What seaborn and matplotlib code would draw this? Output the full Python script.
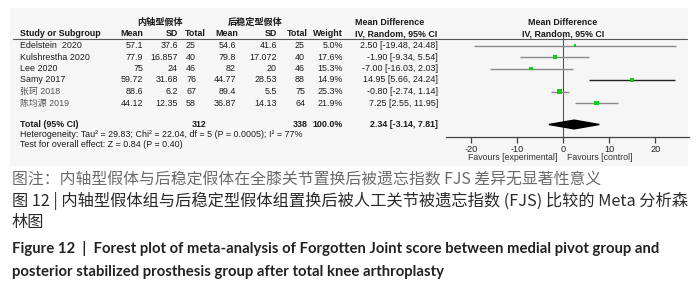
import numpy as np
import pandas as pd
import matplotlib
matplotlib.use("Agg")
import matplotlib.pyplot as plt
import matplotlib.transforms as mtransforms
from matplotlib.lines import Line2D
from matplotlib.patches import Rectangle
import seaborn as sns

# data
studies = ["Edelstein  2020", "Kulshrestha 2020", "Lee 2020", "Samy 2017", "张珂 2018", "陈均源 2019"]
mp_mean = [57.1, 77.9, 75, 59.72, 88.6, 44.12]
mp_sd = [37.6, 16.857, 24, 31.68, 6.2, 12.35]
mp_n = [25, 40, 46, 76, 67, 58]
ps_mean = [54.6, 79.8, 82, 44.77, 89.4, 36.87]
ps_sd = [41.6, 17.072, 20, 28.53, 5.5, 14.13]
ps_n = [25, 40, 46, 88, 75, 64]
weights = [5.0, 17.6, 15.3, 14.9, 25.3, 21.9]
md = [2.50, -1.90, -7.00, 14.95, -0.80, 7.25]
ci_lo = [-19.48, -9.34, -16.03, 5.66, -2.74, 2.55]
ci_hi = [24.48, 5.54, 2.03, 24.24, 1.14, 11.95]
total_n = [312, 338]
total_md, total_lo, total_hi = 2.34, -3.14, 7.81
x_ticks = [-20, -10, 0, 10, 20]
heterogeneity = "Heterogeneity: Tau² = 29.83; Chi² = 22.04, df = 5 (P = 0.0005); I² = 77%"
overall = "Test for overall effect: Z = 0.84 (P = 0.40)"

sns.set_theme(style="white")
plt.rcParams["font.family"] = ["Liberation Sans", "Noto Sans CJK SC", "DejaVu Sans"]
plt.rcParams["axes.unicode_minus"] = False

W, H = 700, 295
fig = plt.figure(figsize=(W / 100, H / 100), dpi=100)


def fx(x):
    return x / W


def fy(y):
    return 1 - y / H


# light grey panel behind the forest plot
fig.add_artist(Rectangle((fx(10), fy(166)), fx(678), 158 / H, transform=fig.transFigure,
                         facecolor="#f6f6f6", edgecolor="none", zorder=-5))

# forest plot axes, rows are indexed 0..n, pixel pitch 11.5
pitch, row0 = 11.5, 45.5
ax = fig.add_axes([fx(446), fy(137), fx(689) - fx(446), 100 / H])
ax.set_facecolor("none")
ax.set_xlim(-25.5, 27.3)
ax.set_ylim((137 - row0) / pitch, (37 - row0) / pitch)
rows = np.arange(len(studies))
total_row = (124.5 - row0) / pitch

df = pd.DataFrame({"study": studies, "md": md, "lo": ci_lo, "hi": ci_hi,
                   "w": weights, "row": rows})
line_cols = ["#222222" if s.startswith("Samy") else "#8a8a8a" for s in studies]
ax.hlines(df["row"], df["lo"], df["hi"], colors=line_cols, lw=1.0, zorder=2)
sns.scatterplot(data=df, x="md", y="row", size="w", sizes=(2.6, 13.2), marker="s",
                color="#11cc11", edgecolor="none", legend=False, ax=ax, zorder=3)
ax.axvline(0, color="#555555", lw=0.8, zorder=1)
h = 0.38
ax.fill([total_lo, total_md, total_hi, total_md],
        [total_row, total_row - h, total_row, total_row + h], color="black", zorder=3)

for s in ["top", "left", "right"]:
    ax.spines[s].set_visible(False)
ax.spines["bottom"].set_color("#444444")
ax.spines["bottom"].set_linewidth(0.9)
ax.set_xticks(x_ticks)
ax.set_yticks([])
ax.tick_params(axis="x", direction="out", length=4, width=0.9, color="#444444",
               labelsize=6.6, pad=1.5, labelcolor="#222222", bottom=True)
ax.set_xlabel("")
ax.set_ylabel("")

# table text: x in figure fraction, y in row units
trans = mtransforms.blended_transform_factory(fig.transFigure, ax.transData)
fs = 6.4
tc = "#1a1a1a"


def cell(x, y, s, ha="right", bold=False, color=tc, size=fs):
    ax.text(fx(x), y, s, transform=trans, ha=ha, va="center", fontsize=size,
            fontweight="bold" if bold else "normal", color=color, clip_on=False)


for i in rows:
    name_col = "#555555" if not studies[i][0].isascii() else tc
    cell(20, i, studies[i], ha="left", color=name_col)
    cell(143, i, f"{mp_mean[i]:g}")
    cell(178, i, f"{mp_sd[i]:g}")
    cell(196, i, f"{mp_n[i]}")
    cell(236, i, f"{ps_mean[i]:g}")
    cell(277, i, f"{ps_sd[i]:g}")
    cell(305, i, f"{ps_n[i]}")
    cell(343, i, f"{weights[i]:.1f}%")
    cell(438, i, f"{md[i]:.2f} [{ci_lo[i]:.2f}, {ci_hi[i]:.2f}]")

cell(20, total_row, "Total (95% CI)", ha="left", bold=True)
cell(207, total_row, f"{total_n[0]}", bold=True)
cell(308, total_row, f"{total_n[1]}", bold=True)
cell(343, total_row, "100.0%", bold=True)
cell(438, total_row, f"{total_md:.2f} [{total_lo:.2f}, {total_hi:.2f}]", bold=True)
cell(20, (134.5 - row0) / pitch, heterogeneity, ha="left")
cell(20, (144.5 - row0) / pitch, overall, ha="left")

# header rows (pixel placed)
def head(x, y, s, ha="right", size=fs, family=None):
    fig.text(fx(x), fy(y), s, ha=ha, va="center", fontsize=size, fontweight="bold",
             color=tc, family=family)


head(160, 22.5, "内轴型假体", ha="center", size=6.6, family=["Noto Sans CJK SC"])
head(255, 22.5, "后稳定型假体", ha="center", size=6.6, family=["Noto Sans CJK SC"])
head(355, 22.5, "Mean Difference", ha="left")
head(563, 22.5, "Mean Difference", ha="center")
head(20, 34, "Study or Subgroup", ha="left")
head(143, 34, "Mean")
head(178, 34, "SD")
head(206, 34, "Total")
head(238, 34, "Mean")
head(277, 34, "SD")
head(308, 34, "Total")
head(343, 34, "Weight")
head(355, 34, "IV, Random, 95% CI", ha="left")
head(563, 34, "IV, Random, 95% CI", ha="center")
fig.add_artist(Line2D([fx(13), fx(687)], [fy(38.5), fy(38.5)], transform=fig.transFigure,
                      color="#555555", lw=0.8))

fig.text(fx(557), fy(158), "Favours [experimental]", ha="right", va="center",
         fontsize=6.3, color="#333333")
fig.text(fx(567), fy(158), "Favours [control]", ha="left", va="center",
         fontsize=6.3, color="#333333")

# captions, font size fitted to the measured line widths
renderer = fig.canvas.get_renderer()


def caption(y, s, width, color, weight="normal", family=None, size=11):
    t = fig.text(fx(12), fy(y), s, ha="left", va="center", fontsize=size,
                 color=color, fontweight=weight, family=family)
    if width:
        bb = t.get_window_extent(renderer)
        t.set_fontsize(size * width / bb.width)
    return t


cjk = ["Noto Sans CJK SC", "DejaVu Sans"]
caption(180, "图注：内轴型假体与后稳定假体在全膝关节置换后被遗忘指数 FJS 差异无显著性意义",
        588, "#6a6a6a", family=cjk)
c2 = caption(201, "图 12 | 内轴型假体组与后稳定型假体组置换后被人工关节被遗忘指数 (FJS) 比较的 Meta 分析森",
             674, "#2a2a2a", weight="medium", family=cjk)
caption(222, "林图", None, "#2a2a2a", weight="medium", family=cjk, size=c2.get_fontsize())
eng = ["Lato", "Liberation Sans", "DejaVu Sans"]
c4 = caption(249, "Figure 12  |  Forest plot of meta-analysis of Forgotten Joint score between medial pivot group and",
             645, "#222222", weight="bold", family=eng)
caption(272, "posterior stabilized prosthesis group after total knee arthroplasty", None,
        "#222222", weight="bold", family=eng, size=c4.get_fontsize())

fig.savefig("out.png", dpi=100)
plt.close(fig)
